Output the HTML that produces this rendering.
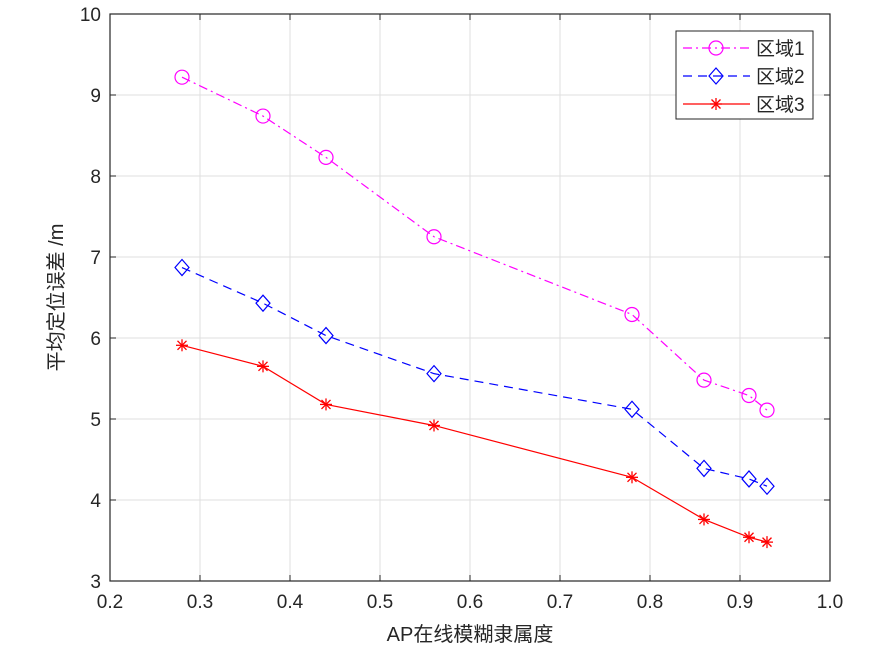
<!DOCTYPE html>
<html><head><meta charset="utf-8"><style>
body{margin:0;background:#fff;}
text{font-family:"Liberation Sans","Noto Sans CJK SC",sans-serif;fill:#262626;}
</style></head><body>
<svg id="chart" width="876" height="651" viewBox="0 0 876 651" xmlns="http://www.w3.org/2000/svg">
<rect width="876" height="651" fill="#fff"/>
<g id="grid"></g><g id="axes"></g><g id="series"></g><g id="legend"></g>
</svg>
<script>
const xValues=[0.28,0.37,0.44,0.56,0.78,0.86,0.91,0.93];
const region1=[9.22,8.74,8.23,7.25,6.29,5.48,5.29,5.11];
const region2=[6.87,6.43,6.03,5.56,5.12,4.39,4.26,4.17];
const region3=[5.91,5.65,5.18,4.92,4.28,3.76,3.54,3.48];
const xTicks=[0.2,0.3,0.4,0.5,0.6,0.7,0.8,0.9,1.0];
const xTickLabels=["0.2","0.3","0.4","0.5","0.6","0.7","0.8","0.9","1.0"];
const yTicks=[3,4,5,6,7,8,9,10];
const yTickLabels=["3","4","5","6","7","8","9","10"];
const seriesNames=["区域1","区域2","区域3"];

const NS="http://www.w3.org/2000/svg";
const L=110,R=830,T=14,B=581;
const xs=v=>L+(v-0.2)/0.8*(R-L);
const ys=v=>B-(v-3)/7*(B-T);
function mk(tag,attrs,parent){const e=document.createElementNS(NS,tag);for(const k in attrs)e.setAttribute(k,attrs[k]);parent.appendChild(e);return e;}
const grid=document.getElementById('grid'),axes=document.getElementById('axes'),ser=document.getElementById('series'),leg=document.getElementById('legend');

xTicks.forEach((t,i)=>{
  const x=xs(t);
  const g=mk('line',{x1:x,x2:x,y1:T,y2:B,stroke:'#dfdfdf','stroke-width':1},grid);
  
  mk('line',{x1:x,x2:x,y1:B,y2:B-6,stroke:'#262626'},axes);
  mk('line',{x1:x,x2:x,y1:T,y2:T+6,stroke:'#262626'},axes);
  const tx=mk('text',{x:x,y:B+27,'text-anchor':'middle','font-size':19},axes);
  tx.textContent=xTickLabels[i];
  
});
yTicks.forEach((t,i)=>{
  const y=ys(t);
  const g=mk('line',{x1:L,x2:R,y1:y,y2:y,stroke:'#dfdfdf','stroke-width':1},grid);
  
  mk('line',{x1:L,x2:L+6,y1:y,y2:y,stroke:'#262626'},axes);
  mk('line',{x1:R,x2:R-6,y1:y,y2:y,stroke:'#262626'},axes);
  const tx=mk('text',{x:L-9,y:y+7,'text-anchor':'end','font-size':19},axes);
  tx.textContent=yTickLabels[i];
  
});
const box=mk('rect',{x:L,y:T,width:R-L,height:B-T,fill:'none',stroke:'#262626','stroke-width':1.2},axes);

const xt=mk('text',{x:(L+R)/2,y:641,'text-anchor':'middle','font-size':20},axes);
xt.textContent='AP在线模糊隶属度';

const yt=mk('text',{x:0,y:0,'text-anchor':'middle','font-size':20,transform:`translate(63,${(T+B)/2}) rotate(-90)`},axes);
yt.textContent='平均定位误差 /m';


const styles=[{c:'#ff00ff',dash:'9,4,2,4',m:'circle'},{c:'#0000ff',dash:'9,6',m:'diamond'},{c:'#ff0000',dash:'',m:'star'}];
function marker(type,x,y,c,p){
  if(type==='circle')return mk('circle',{cx:x,cy:y,r:7,fill:'none',stroke:c,'stroke-width':1.2},p);
  if(type==='diamond')return mk('polygon',{points:`${x},${y-8} ${x+7},${y} ${x},${y+8} ${x-7},${y}`,fill:'none',stroke:c,'stroke-width':1.2},p);
  const g=mk('g',{stroke:c,'stroke-width':1.3},p);
  mk('line',{x1:x-6,x2:x+6,y1:y,y2:y},g);mk('line',{x1:x,x2:x,y1:y-6,y2:y+6},g);
  mk('line',{x1:x-4.5,x2:x+4.5,y1:y-4.5,y2:y+4.5},g);mk('line',{x1:x-4.5,x2:x+4.5,y1:y+4.5,y2:y-4.5},g);
  return g;
}
[region1,region2,region3].forEach((data,si)=>{
  const s=styles[si];
  const pts=data.map((v,i)=>xs(xValues[i])+','+ys(v)).join(' ');
  const pl=mk('polyline',{points:pts,fill:'none',stroke:s.c,'stroke-width':1.2,'stroke-dasharray':s.dash},ser);
  
  data.forEach((v,i)=>{
    const m=marker(s.m,xs(xValues[i]),ys(v),s.c,ser);
    
  });
});
const lb=mk('rect',{x:676,y:31,width:137,height:88,fill:'#fff',stroke:'#262626','stroke-width':1},leg);

seriesNames.forEach((n,i)=>{
  const y=48+i*28,s=styles[i];
  const e=mk('g',{},leg);
  
  mk('line',{x1:683,x2:750,y1:y,y2:y,stroke:s.c,'stroke-width':1.2,'stroke-dasharray':s.dash},e);
  marker(s.m,716,y,s.c,e);
  const t=mk('text',{x:756,y:y+7,'font-size':19},e);t.textContent=n;
});
</script>
</body></html>
